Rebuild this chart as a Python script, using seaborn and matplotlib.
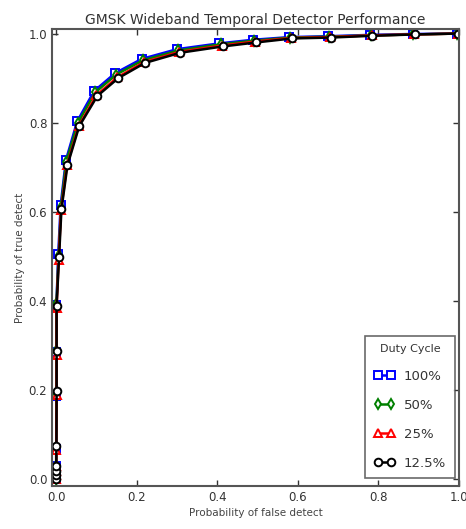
import matplotlib
matplotlib.use("Agg")
import matplotlib.pyplot as plt
import seaborn as sns
import pandas as pd

sns.set_style("ticks")
plt.rcParams['font.family'] = ['DejaVu Sans']

title = "GMSK Wideband Temporal Detector Performance"
xlabel = "Probability of false detect"
ylabel = "Probability of true detect"
legend_title = "Duty Cycle"
labels = ["100%", "50%", "25%", "12.5%"]
ticks = [0.0, 0.2, 0.4, 0.6, 0.8, 1.0]
tick_labels = ["0.0", "0.2", "0.4", "0.6", "0.8", "1.0"]

x_100 = [0, 0, 0, 0, 0, 0.0005, 0.0005, 0.0005, 0.005, 0.011, 0.024, 0.052, 0.094, 0.146, 0.212, 0.300, 0.405, 0.488, 0.578, 0.674, 0.779, 0.885, 0.995]
y_100 = [0.0, 0.01, 0.02, 0.03, 0.068, 0.188, 0.285, 0.392, 0.505, 0.615, 0.716, 0.803, 0.871, 0.911, 0.943, 0.965, 0.978, 0.986, 0.992, 0.994, 0.997, 0.999, 1.0]

x_50 = [0, 0, 0, 0, 0, 0.0005, 0.0005, 0.0005, 0.006, 0.012, 0.025, 0.054, 0.097, 0.149, 0.215, 0.303, 0.408, 0.491, 0.581, 0.677, 0.782, 0.887, 0.996]
y_50 = [0.0, 0.01, 0.02, 0.03, 0.072, 0.194, 0.288, 0.394, 0.503, 0.612, 0.713, 0.800, 0.868, 0.908, 0.940, 0.962, 0.976, 0.984, 0.991, 0.993, 0.996, 0.998, 1.0]

x_25 = [0, 0, 0, 0, 0, 0.0008, 0.0008, 0.0008, 0.006, 0.012, 0.027, 0.056, 0.100, 0.152, 0.218, 0.306, 0.411, 0.494, 0.583, 0.679, 0.784, 0.889, 0.997]
y_25 = [0.0, 0.01, 0.02, 0.03, 0.066, 0.190, 0.280, 0.384, 0.492, 0.604, 0.706, 0.793, 0.862, 0.902, 0.936, 0.959, 0.973, 0.982, 0.990, 0.992, 0.996, 0.998, 1.0]

x_125 = [0, 0, 0, 0, 0.0005, 0.001, 0.001, 0.001, 0.007, 0.013, 0.028, 0.057, 0.102, 0.154, 0.220, 0.308, 0.413, 0.496, 0.585, 0.681, 0.785, 0.890, 0.998]
y_125 = [0.0, 0.01, 0.02, 0.03, 0.074, 0.199, 0.287, 0.390, 0.498, 0.606, 0.705, 0.792, 0.860, 0.900, 0.934, 0.957, 0.971, 0.980, 0.989, 0.991, 0.995, 0.998, 1.0]

series = [
    (x_100, y_100, labels[0], "#0000ff", "s"),
    (x_50, y_50, labels[1], "#008000", "d"),
    (x_25, y_25, labels[2], "#ff0000", "^"),
    (x_125, y_125, labels[3], "#000000", "o"),
]

fig = plt.figure(figsize=(4.66, 5.29), dpi=100)
ax = fig.add_axes([0.112, 0.081, 0.873, 0.864])

for xs, ys, lab, col, mk in series:
    df = pd.DataFrame({"x": xs, "y": ys})
    sns.lineplot(data=df, x="x", y="y", ax=ax, sort=False, estimator=None,
                 color=col, linewidth=1.8, marker=mk, markersize=5.5,
                 markerfacecolor="white", markeredgecolor=col,
                 markeredgewidth=1.4, label=lab)

ax.set_xlim(-0.01, 1.0)
ax.set_ylim(-0.015, 1.01)
ax.set_xticks(ticks)
ax.set_xticklabels(tick_labels)
ax.set_yticks(ticks)
ax.set_yticklabels(tick_labels)
ax.tick_params(direction="in", top=True, right=True, labelsize=8.5,
               labelcolor="#333333", length=4, width=1, color="#333333")
for s in ax.spines.values():
    s.set_linewidth(1.5)
    s.set_color("#555555")

ax.set_title(title, fontsize=10, color="#333333", pad=4)
ax.set_xlabel(xlabel, fontsize=7.5, color="#444444", labelpad=3)
ax.set_ylabel(ylabel, fontsize=7.5, color="#444444", labelpad=3)

leg = ax.legend(title=legend_title, loc="lower right", numpoints=2,
                fontsize=9.5, title_fontsize=8, frameon=True, fancybox=False,
                borderpad=0.65, handlelength=1.6, handletextpad=0.7,
                labelspacing=1.2, bbox_to_anchor=(1.006, 0.003))
leg.get_frame().set_edgecolor("#444444")
leg.get_frame().set_linewidth(1.2)
for t in leg.get_texts():
    t.set_color("#333333")
leg.get_title().set_color("#333333")

fig.savefig("out.png", dpi=100)
